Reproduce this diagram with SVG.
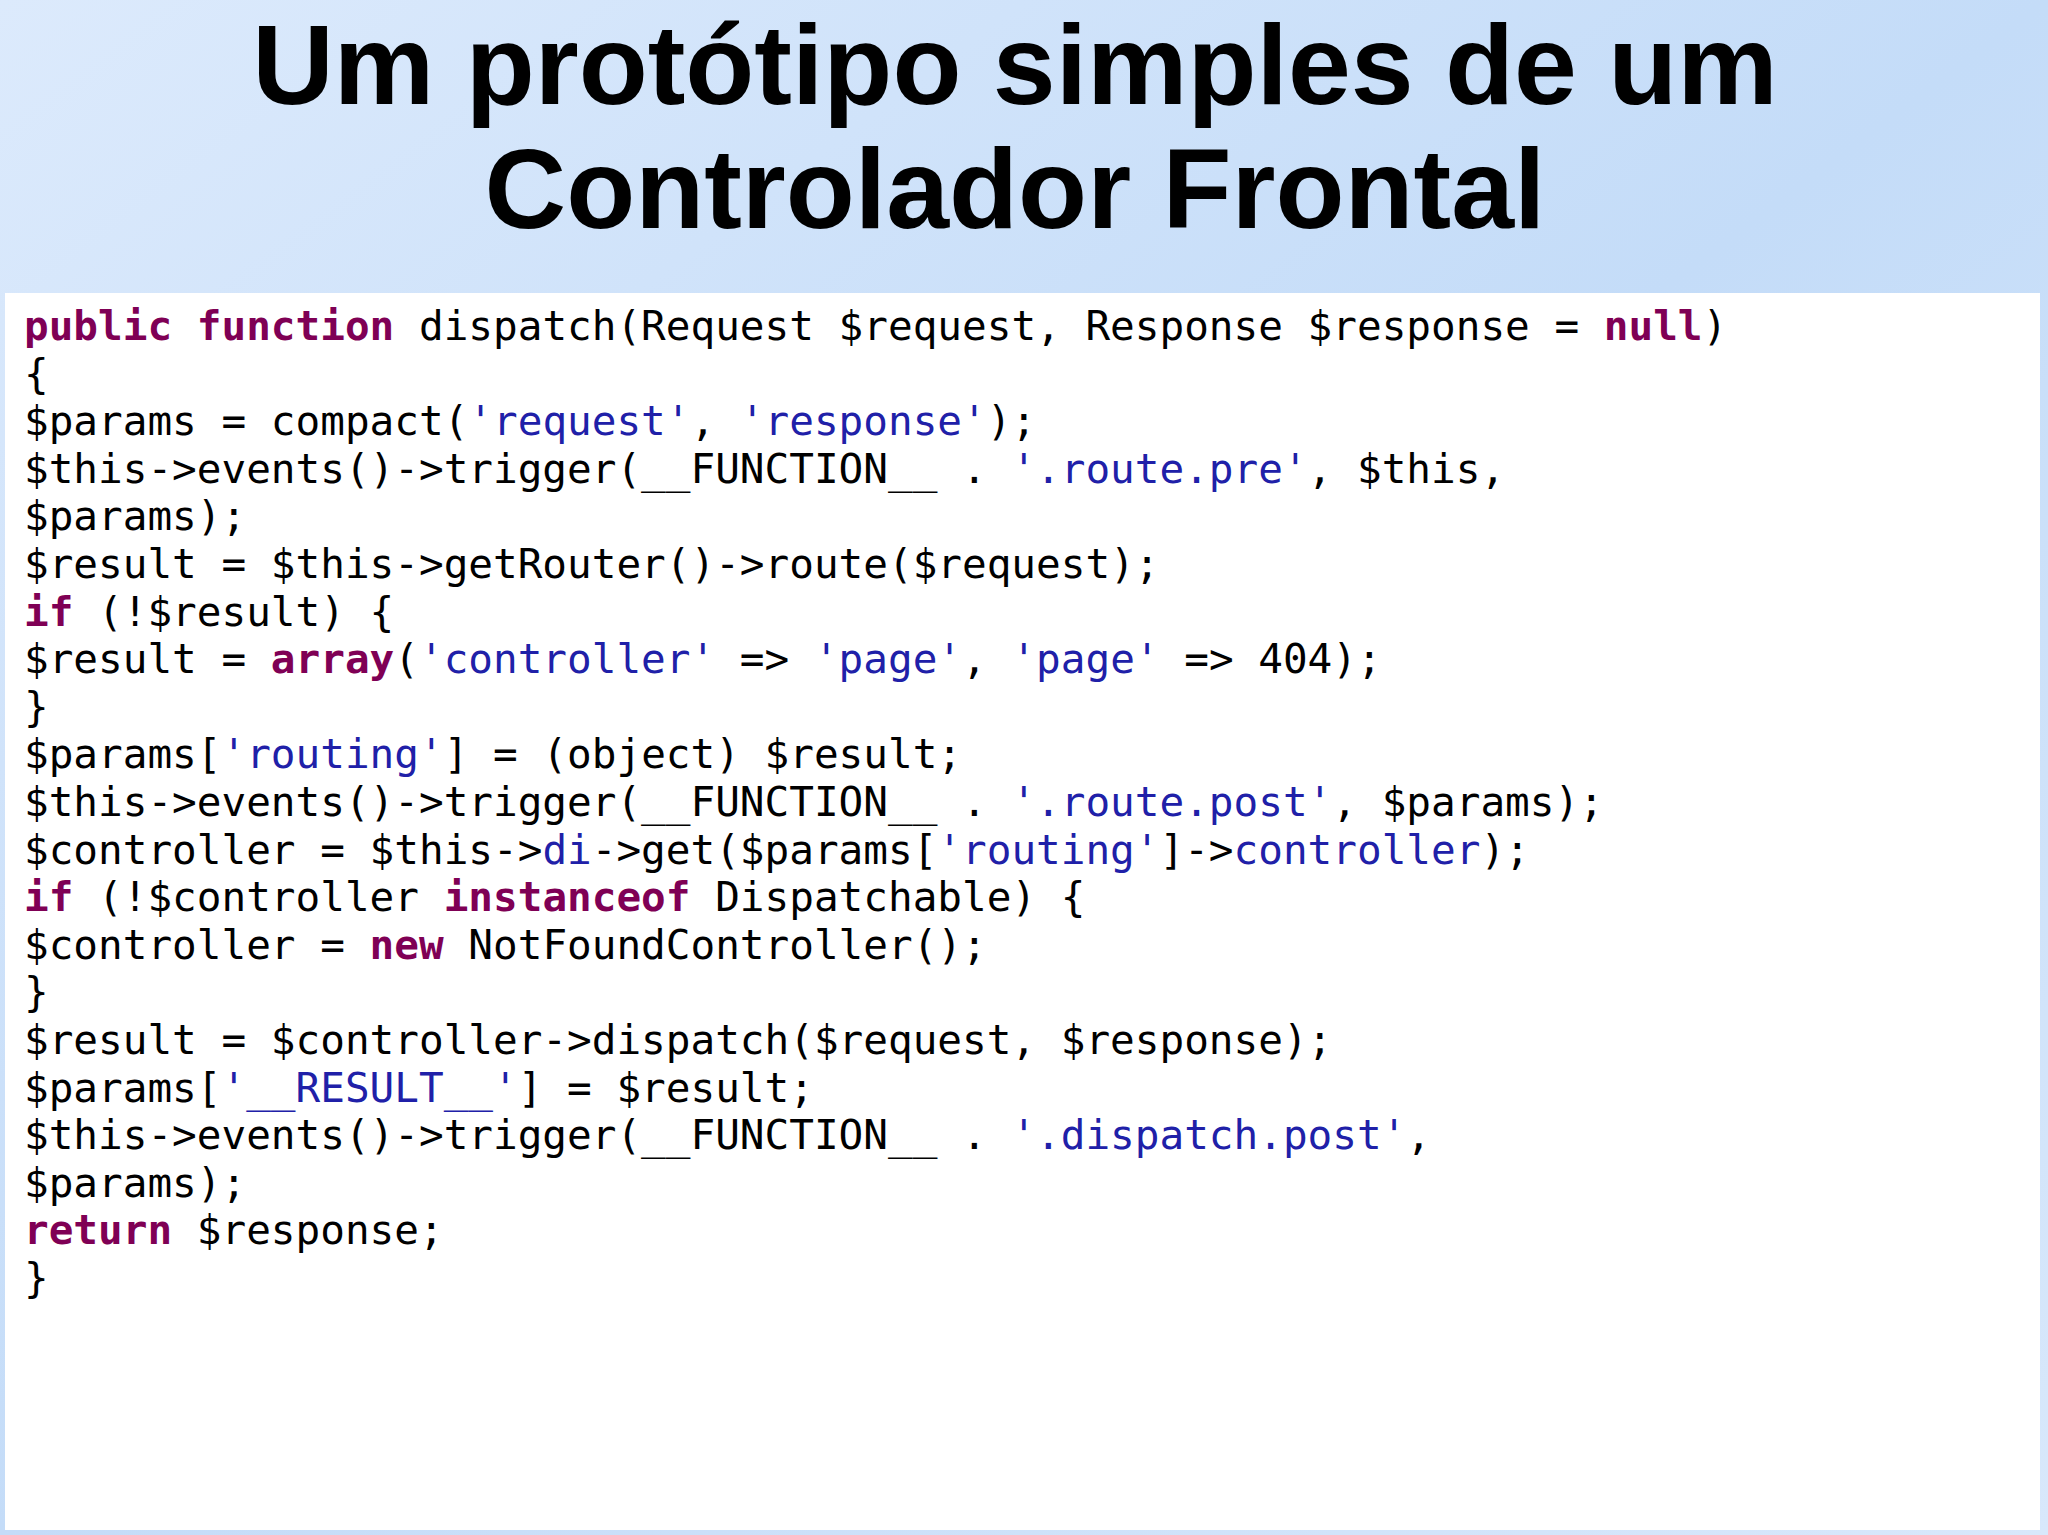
<svg xmlns="http://www.w3.org/2000/svg" width="2048" height="1535" viewBox="0 0 2048 1535">
<style>
.t{font-family:"Liberation Sans",Arial,sans-serif;font-weight:bold;font-size:113px;fill:#000;text-anchor:middle}
.c{font-family:"DejaVu Sans Mono",monospace;font-size:41px;fill:#000;white-space:pre}
.k{fill:#7f0055;font-weight:bold}
.s{fill:#2020a8}
</style>
<defs>
<linearGradient id="bg" x1="0" y1="0" x2="1" y2="1">
<stop offset="0" stop-color="#dceafc"/><stop offset="0.5" stop-color="#c4dcf8"/><stop offset="1" stop-color="#d8e8fb"/>
</linearGradient>
</defs>
<rect width="2048" height="1535" fill="url(#bg)"/>
<g id="title">
<text class="t" x="1015" y="104">Um protótipo simples de um</text>
<text class="t" x="1015" y="228">Controlador Frontal</text>
</g>
<g id="code">
<rect x="5" y="293" width="2035" height="1237" fill="#fff"/>
<text class="c" xml:space="preserve">
<tspan x="24" y="340"><tspan class="k">public</tspan> <tspan class="k">function</tspan> dispatch(Request $request, Response $response = <tspan class="k">null</tspan>)</tspan>
<tspan x="24" y="387.6">{</tspan>
<tspan x="24" y="435.2">$params = compact(<tspan class="s">'request'</tspan>, <tspan class="s">'response'</tspan>);</tspan>
<tspan x="24" y="482.8">$this-&gt;events()-&gt;trigger(__FUNCTION__ . <tspan class="s">'.route.pre'</tspan>, $this,</tspan>
<tspan x="24" y="530.4">$params);</tspan>
<tspan x="24" y="578">$result = $this-&gt;getRouter()-&gt;route($request);</tspan>
<tspan x="24" y="625.6"><tspan class="k">if</tspan> (!$result) {</tspan>
<tspan x="24" y="673.2">$result = <tspan class="k">array</tspan>(<tspan class="s">'controller'</tspan> =&gt; <tspan class="s">'page'</tspan>, <tspan class="s">'page'</tspan> =&gt; 404);</tspan>
<tspan x="24" y="720.8">}</tspan>
<tspan x="24" y="768.4">$params[<tspan class="s">'routing'</tspan>] = (object) $result;</tspan>
<tspan x="24" y="816">$this-&gt;events()-&gt;trigger(__FUNCTION__ . <tspan class="s">'.route.post'</tspan>, $params);</tspan>
<tspan x="24" y="863.6">$controller = $this-&gt;<tspan class="s">di</tspan>-&gt;get($params[<tspan class="s">'routing'</tspan>]-&gt;<tspan class="s">controller</tspan>);</tspan>
<tspan x="24" y="911.2"><tspan class="k">if</tspan> (!$controller <tspan class="k">instanceof</tspan> Dispatchable) {</tspan>
<tspan x="24" y="958.8">$controller = <tspan class="k">new</tspan> NotFoundController();</tspan>
<tspan x="24" y="1006.4">}</tspan>
<tspan x="24" y="1054">$result = $controller-&gt;dispatch($request, $response);</tspan>
<tspan x="24" y="1101.6">$params[<tspan class="s">'__RESULT__'</tspan>] = $result;</tspan>
<tspan x="24" y="1149.2">$this-&gt;events()-&gt;trigger(__FUNCTION__ . <tspan class="s">'.dispatch.post'</tspan>,</tspan>
<tspan x="24" y="1196.8">$params);</tspan>
<tspan x="24" y="1244.4"><tspan class="k">return</tspan> $response;</tspan>
<tspan x="24" y="1292">}</tspan>
</text>
</g>
</svg>
